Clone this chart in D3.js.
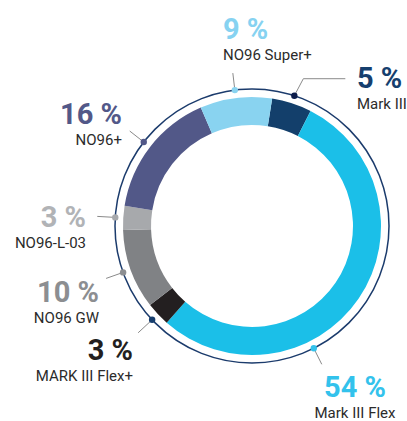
<!DOCTYPE html>
<html>
<head>
<meta charset="utf-8">
<script src="https://cdn.jsdelivr.net/npm/d3@7"></script>
<style>
  body { margin: 0; background: #fff; }
  svg text { font-family: Roboto, "Liberation Sans", sans-serif; }
</style>
</head>
<body>
<div id="chart"></div>
<script>
// Data
const categories = ["Mark III", "Mark III Flex", "MARK III Flex+", "NO96 GW", "NO96-L-03", "NO96+", "NO96 Super+"];
const shares = [5, 54, 3, 10, 3, 16, 9];
const pctLabels = ["5 %", "54 %", "3 %", "10 %", "3 %", "16 %", "9 %"];

// Colours per segment
const fills = ["#133f6b", "#1bbfe8", "#231f20", "#808285", "#a7a9ac", "#525888", "#89d3f0"];
const pctColors = ["#163f6e", "#33c2ec", "#231f20", "#8c8e91", "#b1b3b6", "#525888", "#86d2f1"];
const dotColors = ["#0d1c4b", "#33c2ec", "#173e6e", "#8c8e91", "#a7a9ac", "#525888", "#89d3f0"];

// Label layout (text anchor points and leader line ends)
const labelLayout = {
    "Mark III":       {x: 357, anchor: "start",  y: 88,  shift: 0,  line: [[9, -17], [51, -17]]},
    "Mark III Flex":  {x: 355, anchor: "middle", y: 397, shift: 29, line: [[8, 16]]},
    "MARK III Flex+": {x: 133, anchor: "end",    y: 360, shift: 0,  line: [[-14, 13]]},
    "NO96 GW":        {x: 99,  anchor: "end",    y: 302, shift: 0,  line: [[-17, 6]]},
    "NO96-L-03":      {x: 86,  anchor: "end",    y: 227, shift: 0,  line: [[-18, -1]]},
    "NO96+":          {x: 122, anchor: "end",    y: 124, shift: 0,  line: [[-14, -11]]},
    "NO96 Super+":    {x: 223, anchor: "start",  y: 39,  shift: 0,  line: [[-2, -17]]}
};

const width = 407, height = 421;
const cx = 252, cy = 226;
const outerR = 129, innerR = 101, ringR = 137;

const svg = d3.select("#chart")
    .append("svg")
    .attr("width", width)
    .attr("height", height);

const g = svg.append("g")
    .attr("transform", `translate(${cx},${cy})`);

const data = categories.map((c, i) => ({name: c, value: shares[i], i: i}));

const pie = d3.pie()
    .sort(null)
    .value(d => d.value)
    .startAngle(9 * Math.PI / 180)
    .endAngle(369 * Math.PI / 180);

const arcs = pie(data);

const arc = d3.arc()
    .innerRadius(innerR)
    .outerRadius(outerR);

// Thin outer ring
g.append("circle")
    .attr("r", ringR)
    .attr("fill", "none")
    .attr("stroke", "#1b3b6c")
    .attr("stroke-width", 1.5);

// Segments
g.selectAll("path.seg")
    .data(arcs)
    .enter()
    .append("path")
    .attr("class", "seg")
    .attr("d", arc)
    .attr("fill", d => fills[d.data.i]);

// Dots + leader lines
const ringArc = d3.arc().innerRadius(ringR).outerRadius(ringR);

arcs.forEach(a => {
    const lay = labelLayout[a.data.name];
    const mid = (a.startAngle + a.endAngle) / 2 + lay.shift * Math.PI / 180;
    const p = ringArc.centroid({startAngle: mid, endAngle: mid});
    const pts = [p].concat(lay.line.map(o => [p[0] + o[0], p[1] + o[1]]));

    g.append("path")
        .attr("d", d3.line()(pts))
        .attr("fill", "none")
        .attr("stroke", "#8a8a8a")
        .attr("stroke-width", 1);

    g.append("circle")
        .attr("cx", p[0])
        .attr("cy", p[1])
        .attr("r", 3.2)
        .attr("fill", dotColors[a.data.i]);
});

// Text labels
data.forEach(d => {
    const lay = labelLayout[d.name];
    svg.append("text")
        .attr("x", lay.x)
        .attr("y", lay.y)
        .attr("text-anchor", lay.anchor)
        .attr("font-size", 29)
        .attr("font-weight", "bold")
        .attr("fill", pctColors[d.i])
        .text(pctLabels[d.i]);

    svg.append("text")
        .attr("x", lay.x)
        .attr("y", lay.y + 21)
        .attr("text-anchor", lay.anchor)
        .attr("font-size", 15)
        .attr("fill", "#2b2b2b")
        .text(d.name);
});
</script>
</body>
</html>
